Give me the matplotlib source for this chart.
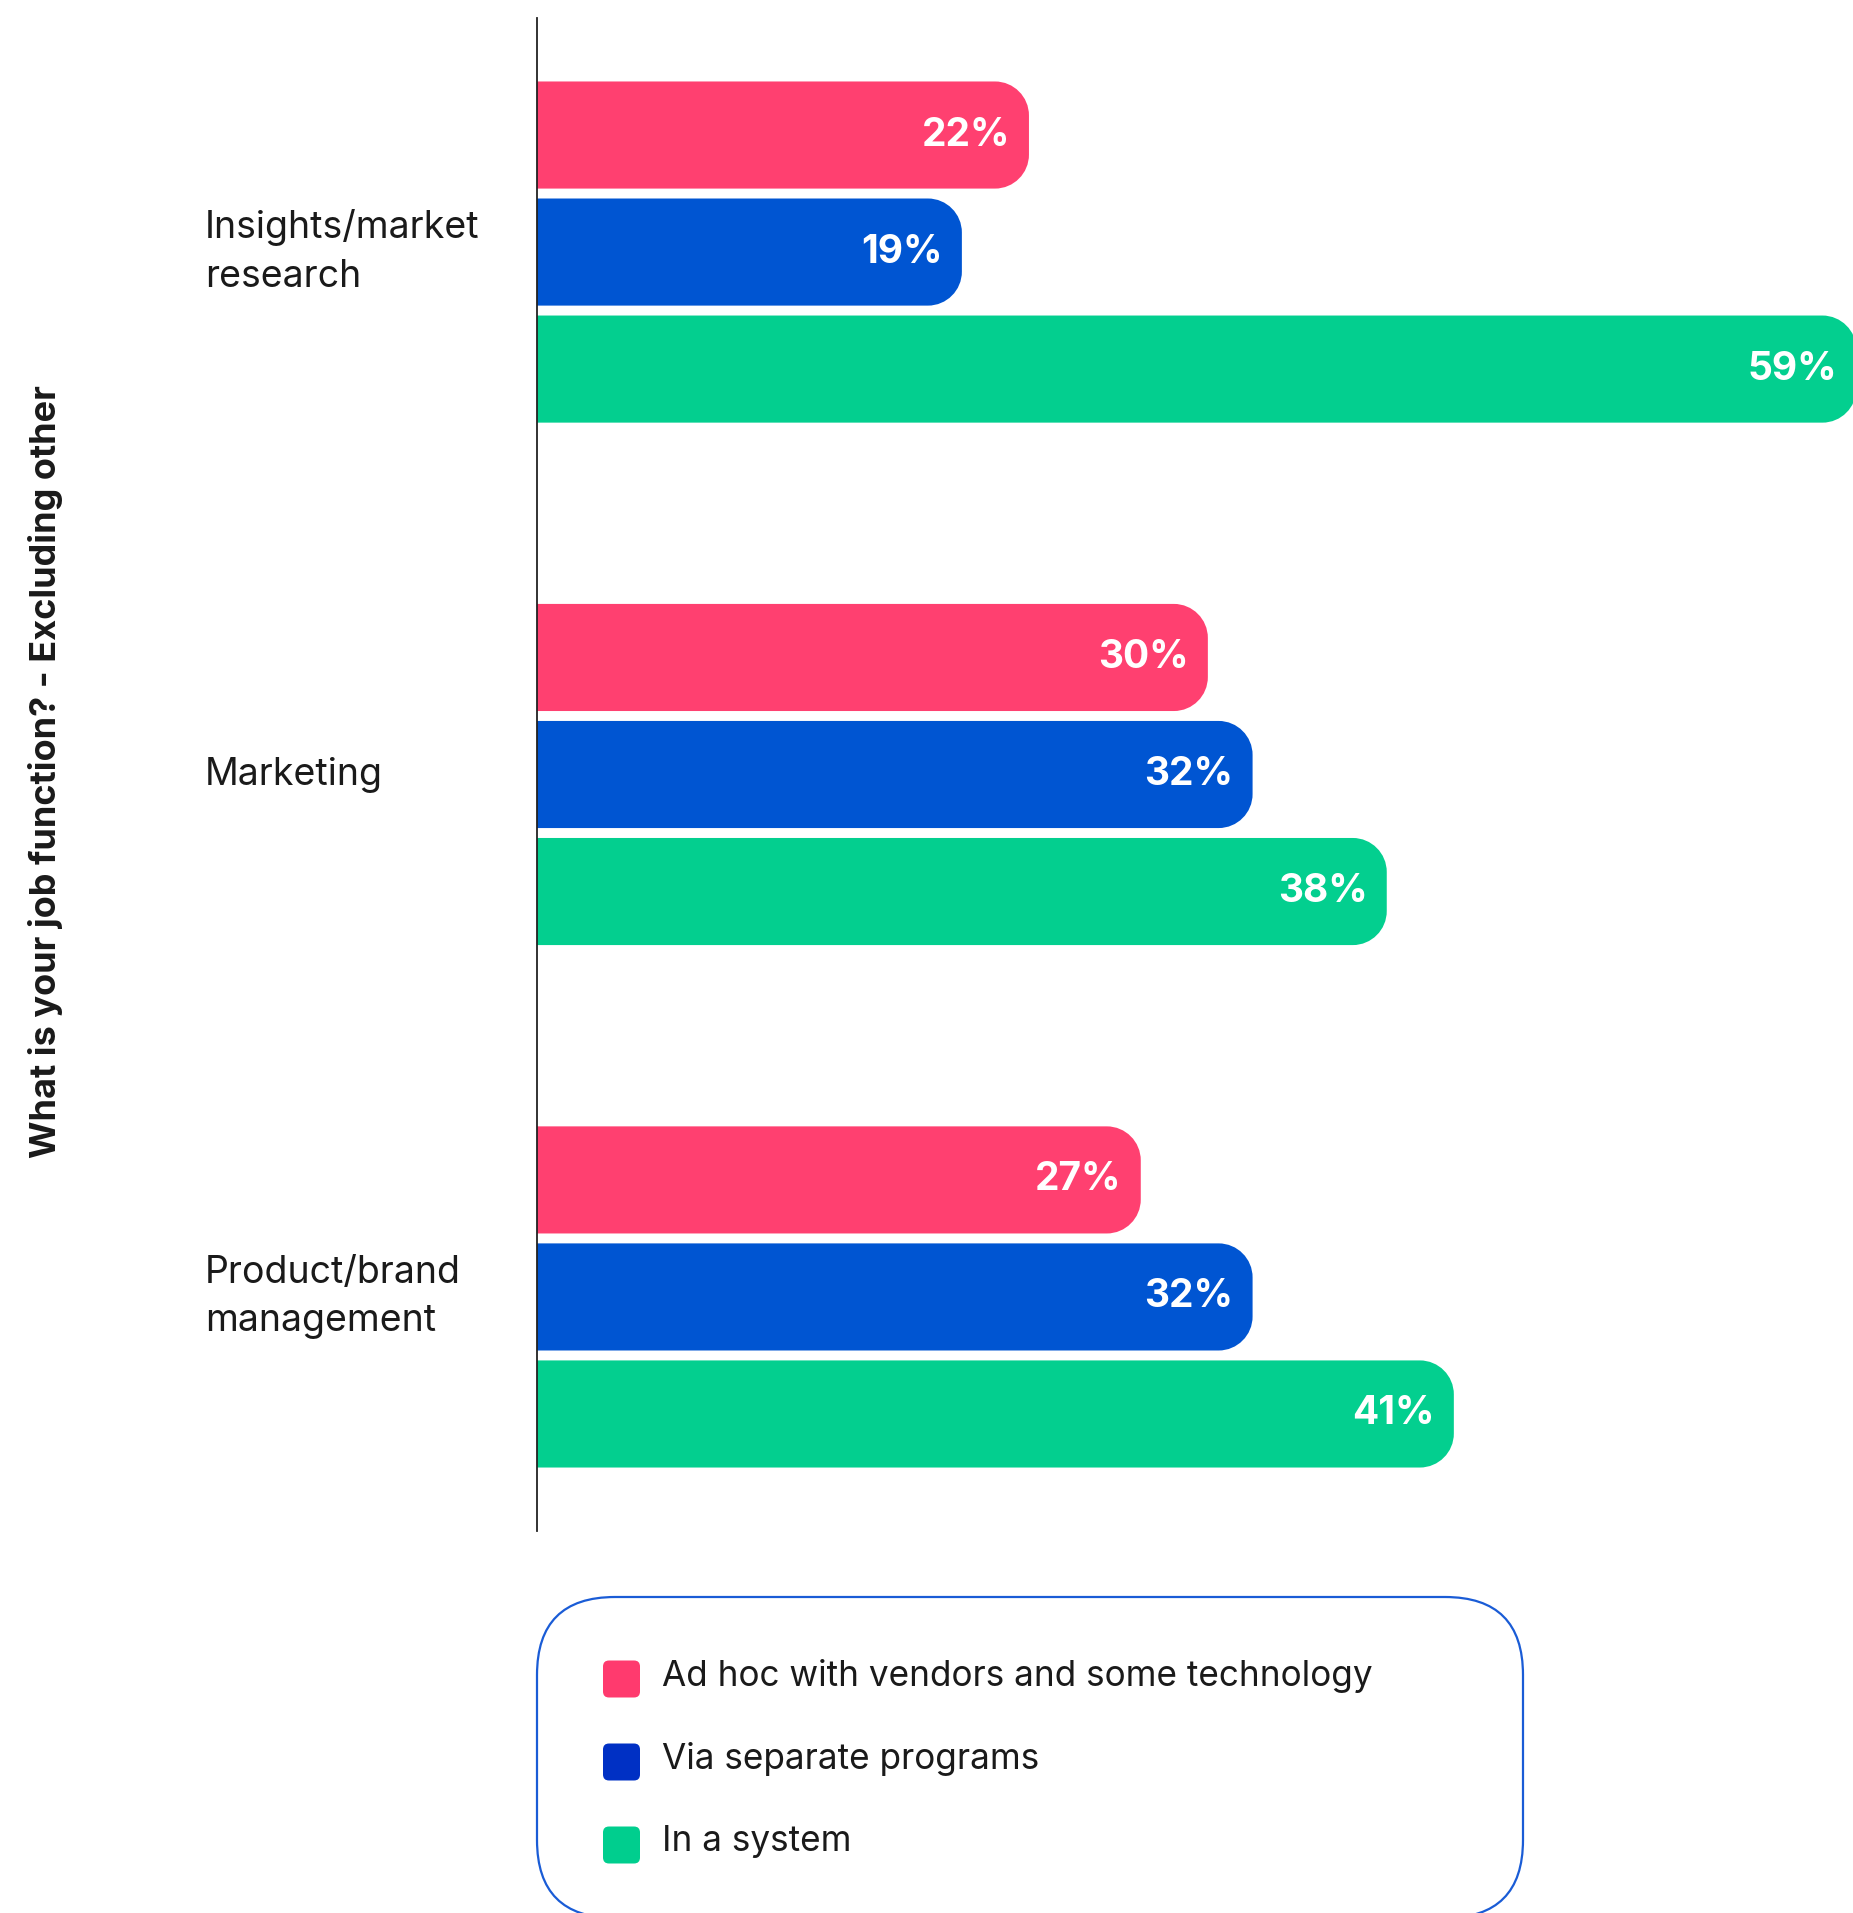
import numpy as np
import matplotlib.pyplot as plt
from matplotlib.path import Path
from matplotlib.patches import PathPatch, FancyBboxPatch

plt.rcParams['font.family'] = ['Inter', 'DejaVu Sans']

categories = ['Insights/market\nresearch', 'Marketing', 'Product/brand\nmanagement']
series = ['Ad hoc with vendors and some technology', 'Via separate programs', 'In a system']
ad_hoc = [22, 30, 27]
separate = [19, 32, 32]
in_system = [59, 38, 41]
values = [ad_hoc, separate, in_system]

bar_colors = ['#FF4070', '#0055D2', '#03CF8F']
swatch_colors = ['#FF3A6E', '#0030C4', '#00CE8E']

W, H = 1853, 1913
fig = plt.figure(figsize=(W / 100, H / 100), dpi=100)
ax = fig.add_axes([537 / W, 1 - 1531 / H, 1 - 537 / W, (1531 - 18) / H])
ax.set_xlim(0, 58.85)
ax.set_ylim(2.448, -0.448)

# pixel -> data scale, for the rounded ends
px_x = (W - 537) / 58.85
px_y = (1531 - 18) / 2.896
r = 34
rx, ry = r / px_x, r / px_y
k = 0.5523


def right_rounded(x1, y0, y1):
    # bar from x=0 to x1 between y0 (top) and y1 (bottom), right corners rounded
    verts = [(0, y0), (x1 - rx, y0),
             (x1 - rx + k * rx, y0), (x1, y0 + ry - k * ry), (x1, y0 + ry),
             (x1, y1 - ry),
             (x1, y1 - ry + k * ry), (x1 - rx + k * rx, y1), (x1 - rx, y1),
             (0, y1), (0, y0)]
    codes = [Path.MOVETO, Path.LINETO,
             Path.CURVE4, Path.CURVE4, Path.CURVE4,
             Path.LINETO,
             Path.CURVE4, Path.CURVE4, Path.CURVE4,
             Path.LINETO, Path.CLOSEPOLY]
    return Path(verts, codes)


bar_h = 0.205
offsets = [-0.224, 0.0, 0.224]
for s, (vals, col) in enumerate(zip(values, bar_colors)):
    for i, v in enumerate(vals):
        yc = i + offsets[s]
        ax.add_patch(PathPatch(right_rounded(v, yc - bar_h / 2, yc + bar_h / 2),
                               facecolor=col, edgecolor='none', clip_on=True))
        ax.text(v - 0.85, yc, f'{v}%', ha='right', va='center', color='white',
                fontsize=28, fontweight='bold')

for sp in ['top', 'right', 'bottom']:
    ax.spines[sp].set_visible(False)
ax.spines['left'].set_color('#222222')
ax.spines['left'].set_linewidth(1.3)
ax.set_xticks([])
ax.set_yticks([])

for i, c in enumerate(categories):
    ax.text(-332 / px_x, i, c, ha='left', va='center', fontsize=27,
            color='#1a1a1a', linespacing=1.45)

fig.text(46 / W, 1 - 772 / H, 'What is your job function? - Excluding other',
         rotation=90, ha='center', va='center', fontsize=26,
         fontweight='bold', color='#1a1a1a')

# legend drawn in pixel space (origin bottom-left)
ov = fig.add_axes([0, 0, 1, 1], zorder=-1)
ov.set_xlim(0, W)
ov.set_ylim(0, H)
ov.axis('off')
rad = 78
box_top, box_bot = 1597, 1918
ov.add_patch(FancyBboxPatch((537 + rad, H - box_bot + rad), 986 - 2 * rad,
                            (box_bot - box_top) - 2 * rad,
                            boxstyle=f'round,pad={rad}', facecolor='none',
                            edgecolor='#1A5CD6', linewidth=1.6, clip_on=False))
for j, (lab, col) in enumerate(zip(series, swatch_colors)):
    yc = H - (1679 + 83 * j)
    ov.add_patch(FancyBboxPatch((603 + 6, yc - 18.5 + 6), 25, 25,
                                boxstyle='round,pad=6', facecolor=col,
                                edgecolor='none'))
    ov.text(662, yc + 3, lab, ha='left', va='center', fontsize=25.3,
            color='#1a1a1a')

fig.savefig('out.png', dpi=100)
